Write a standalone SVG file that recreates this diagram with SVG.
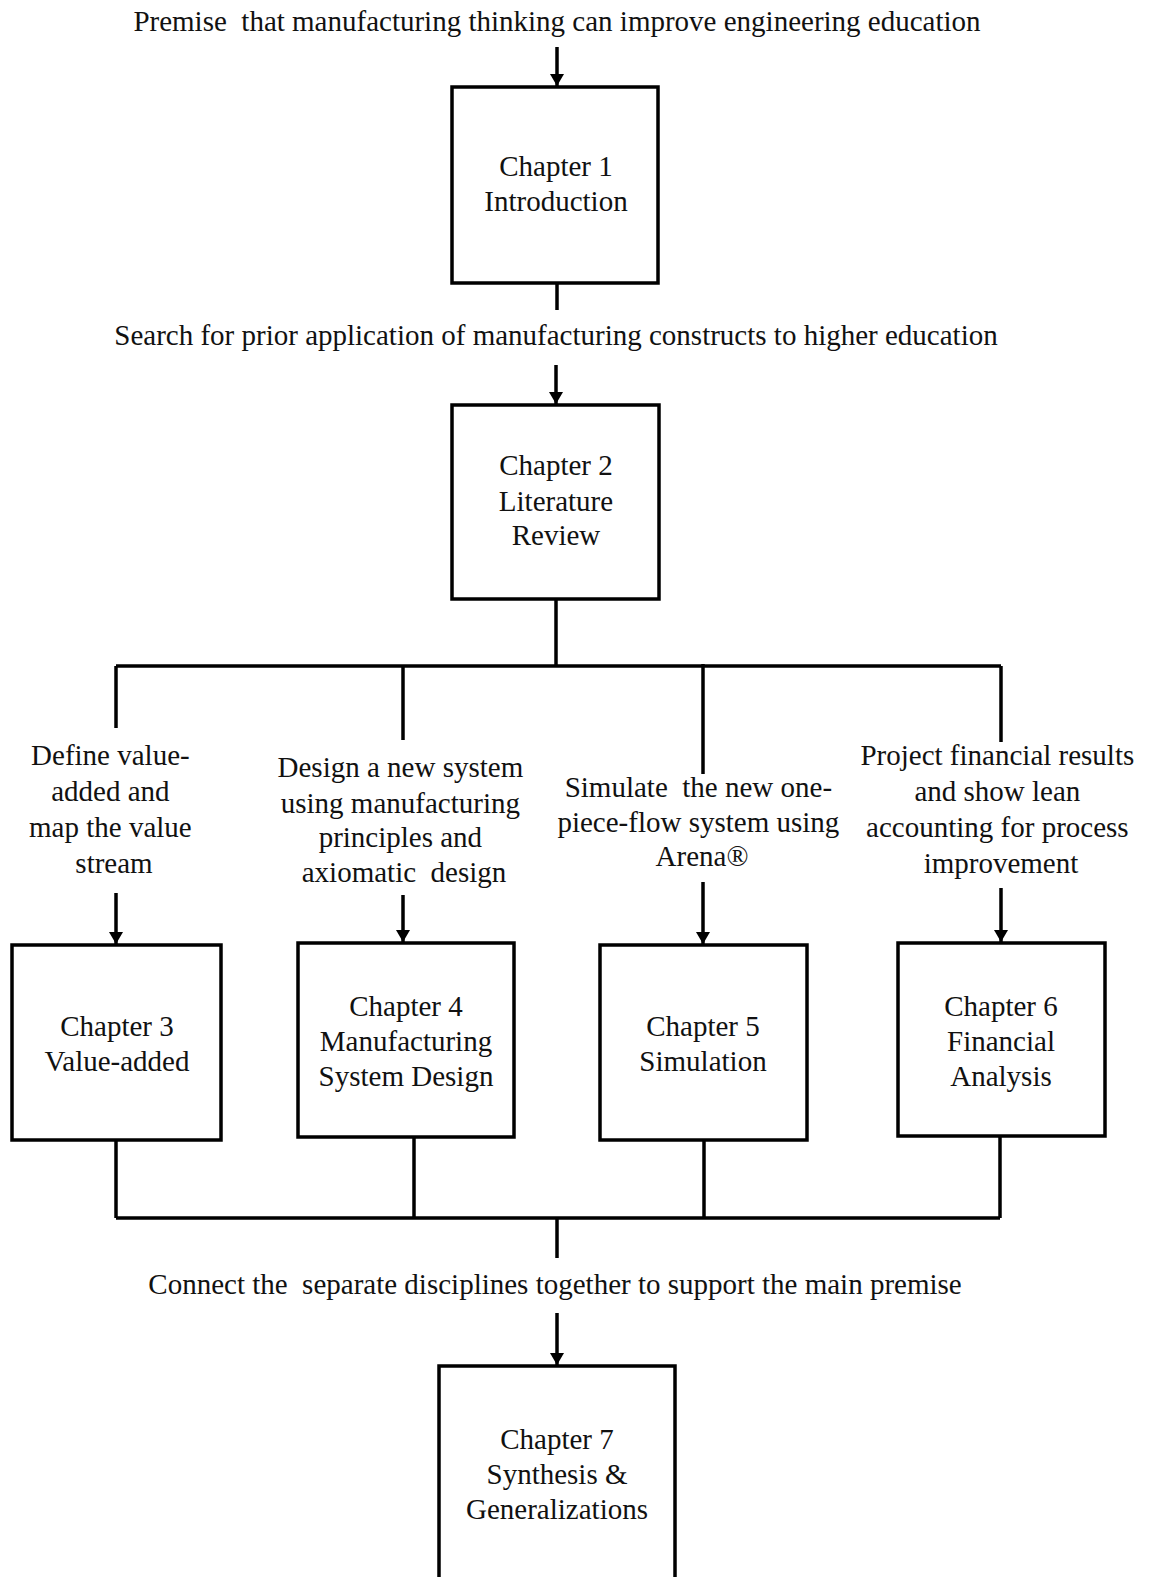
<svg xmlns="http://www.w3.org/2000/svg" width="1151" height="1577" viewBox="0 0 1151 1577">
  <style>
    text { font-family: "Liberation Serif", "Times New Roman", serif; font-size: 29px; fill: #111; text-anchor: middle; }
    .pre { white-space: pre; }
    .box { fill: #fff; stroke: #000; stroke-width: 3.5; }
    .wire { fill: none; stroke: #000; stroke-width: 3.5; }
  </style>
  <defs>
    <marker id="arrow" viewBox="0 0 12 14" refX="12" refY="7" markerWidth="12" markerHeight="14" orient="auto" markerUnits="userSpaceOnUse">
      <path d="M0,0 L12,7 L0,14 z" fill="#000"/>
    </marker>
  </defs>

  <rect width="1151" height="1577" fill="#fff"/>

  <!-- connectors -->
  <g id="connectors" class="wire">
    <line x1="557" y1="47" x2="557" y2="86" marker-end="url(#arrow)"/>
    <line x1="557" y1="283" x2="557" y2="310"/>
    <line x1="556" y1="365" x2="556" y2="404" marker-end="url(#arrow)"/>
    <!-- fan-out from Chapter 2 -->
    <line x1="556" y1="599" x2="556" y2="666"/>
    <line x1="116" y1="666" x2="1001" y2="666"/>
    <line x1="116" y1="666" x2="116" y2="728"/>
    <line x1="403" y1="666" x2="403" y2="740"/>
    <line x1="703" y1="664" x2="703" y2="774"/>
    <line x1="1001" y1="666" x2="1001" y2="742"/>
    <!-- arrows into chapters 3-6 -->
    <line x1="116" y1="893" x2="116" y2="944" marker-end="url(#arrow)"/>
    <line x1="403" y1="895" x2="403" y2="942" marker-end="url(#arrow)"/>
    <line x1="703" y1="882" x2="703" y2="944" marker-end="url(#arrow)"/>
    <line x1="1001" y1="888" x2="1001" y2="942" marker-end="url(#arrow)"/>
    <!-- merge into Chapter 7 -->
    <line x1="116" y1="1140" x2="116" y2="1218"/>
    <line x1="414" y1="1137" x2="414" y2="1218"/>
    <line x1="704" y1="1140" x2="704" y2="1218"/>
    <line x1="1000" y1="1136" x2="1000" y2="1218"/>
    <line x1="116" y1="1218" x2="1000" y2="1218"/>
    <line x1="557" y1="1218" x2="557" y2="1258"/>
    <line x1="557" y1="1313" x2="557" y2="1365" marker-end="url(#arrow)"/>
  </g>

  <!-- flow labels -->
  <g id="labels">
    <text class="pre" x="557" y="31">Premise  that manufacturing thinking can improve engineering education</text>
    <text x="556" y="345">Search for prior application of manufacturing constructs to higher education</text>
    <text x="114">
      <tspan x="114" y="765">Define value-</tspan>
      <tspan x="114" y="801">added and</tspan>
      <tspan x="114" y="837">map the value</tspan>
      <tspan x="114" y="873">stream</tspan>
    </text>
    <text x="404">
      <tspan x="404" y="777">Design a new system</tspan>
      <tspan x="404" y="813">using manufacturing</tspan>
      <tspan x="404" y="847">principles and</tspan>
      <tspan class="pre" x="404" y="882">axiomatic  design</tspan>
    </text>
    <text x="702">
      <tspan class="pre" x="702" y="797">Simulate  the new one-</tspan>
      <tspan x="702" y="832">piece-flow system using</tspan>
      <tspan x="702" y="866">Arena®</tspan>
    </text>
    <text x="1001">
      <tspan x="1001" y="765">Project financial results</tspan>
      <tspan x="1001" y="801">and show lean</tspan>
      <tspan x="1001" y="837">accounting for process</tspan>
      <tspan x="1001" y="873">improvement</tspan>
    </text>
    <text class="pre" x="555" y="1294">Connect the  separate disciplines together to support the main premise</text>
  </g>

  <!-- chapter nodes -->
  <g id="chapter1">
    <rect class="box" x="452" y="87" width="206" height="196"/>
    <text x="556" y="176">Chapter 1</text>
    <text x="556" y="211">Introduction</text>
  </g>
  <g id="chapter2">
    <rect class="box" x="452" y="405" width="207" height="194"/>
    <text x="556" y="475">Chapter 2</text>
    <text x="556" y="511">Literature</text>
    <text x="556" y="545">Review</text>
  </g>
  <g id="chapter3">
    <rect class="box" x="12" y="945" width="209" height="195"/>
    <text x="117" y="1036">Chapter 3</text>
    <text x="117" y="1071">Value-added</text>
  </g>
  <g id="chapter4">
    <rect class="box" x="298" y="943" width="216" height="194"/>
    <text x="406" y="1016">Chapter 4</text>
    <text x="406" y="1051">Manufacturing</text>
    <text x="406" y="1086">System Design</text>
  </g>
  <g id="chapter5">
    <rect class="box" x="600" y="945" width="207" height="195"/>
    <text x="703" y="1036">Chapter 5</text>
    <text x="703" y="1071">Simulation</text>
  </g>
  <g id="chapter6">
    <rect class="box" x="898" y="943" width="207" height="193"/>
    <text x="1001" y="1016">Chapter 6</text>
    <text x="1001" y="1051">Financial</text>
    <text x="1001" y="1086">Analysis</text>
  </g>
  <g id="chapter7">
    <rect class="box" x="439" y="1366" width="236" height="240"/>
    <text x="557" y="1449">Chapter 7</text>
    <text x="557" y="1484">Synthesis &amp;</text>
    <text x="557" y="1519">Generalizations</text>
  </g>
</svg>
